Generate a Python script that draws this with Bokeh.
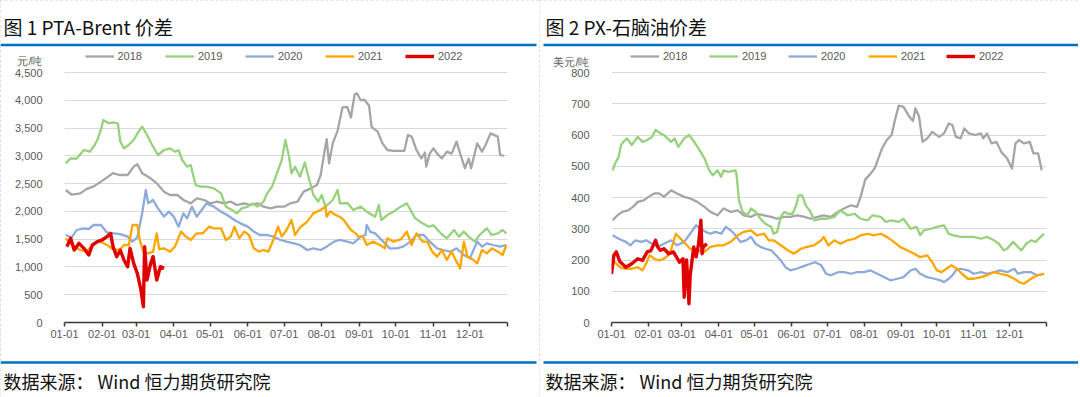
from bokeh.plotting import figure
from bokeh.models import Range1d, FixedTicker, Label, BoxAnnotation, Legend, LegendItem
from bokeh.layouts import row, column
from bokeh.embed import file_html
from bokeh.resources import INLINE

# ---------------- data ----------------
years = ["2018", "2019", "2020", "2021", "2022"]
month_ticks = [0, 31, 59, 90, 120, 151, 181, 212, 243, 273, 304, 334, 365]
month_labels = ["01-01", "02-01", "03-01", "04-01", "05-01", "06-01", "07-01",
                "08-01", "09-01", "10-01", "11-01", "12-01", ""]

# Chart 1: PTA-Brent spread (yuan/ton), x = day of year
pta_2018_day = [1,6,13,18,24,30,36,40,45,52,57,60,64,71,76,82,87,93,98,104,109,115,120,126,131,137,142,148,153,159,164,170,175,181,186,192,197,203,208,211,214,216,218,221,225,229,233,236,239,241,244,247,251,253,258,262,266,271,276,280,283,286,290,294,297,298,301,304,307,311,315,319,323,326,330,333,335,340,344,347,351,357,359,362]
pta_2018_val = [2385,2300,2325,2400,2450,2535,2625,2690,2655,2655,2805,2850,2685,2595,2505,2355,2295,2295,2205,2145,2235,2205,2145,2175,2145,2175,2115,2145,2115,2145,2085,2055,2085,2085,2145,2175,2355,2415,2475,2650,3045,3300,2865,3225,3450,3870,3880,3690,4100,4125,4000,4010,3900,3520,3435,3225,3105,3090,3090,3090,3375,3345,3105,2955,3060,2805,3045,3135,3040,2955,3075,3040,3255,3040,2775,2950,2775,3225,3075,3200,3405,3345,3015,3000]

pta_2019_day = [1,5,10,16,21,25,27,30,32,36,41,44,46,49,53,57,61,64,68,73,77,82,87,91,94,97,101,104,108,112,117,123,129,133,138,142,146,151,155,159,164,167,171,175,179,182,185,187,190,194,198,201,205,209,212,215,221,225,227,233,238,244,249,256,259,261,266,271,277,282,285,289,295,300,304,310,315,321,325,329,333,338,342,348,352,357,361,364]
pta_2019_val = [2865,2955,2950,3105,3075,3200,3285,3465,3645,3590,3600,3580,3255,3135,3200,3285,3435,3525,3375,3165,3015,3105,3135,3075,3100,2925,2805,2835,2475,2445,2445,2415,2325,2085,2025,1965,2055,2085,2145,2085,2175,2325,2445,2685,2925,3285,2985,2685,2805,2625,2880,2625,2300,2175,2295,2085,2205,2385,2145,2150,2025,2085,1995,1905,2115,1845,1935,1995,2085,2145,2030,1875,1785,1725,1750,1605,1515,1665,1545,1635,1545,1455,1575,1695,1575,1605,1665,1605]

pta_2020_day = [1,6,10,16,20,24,30,35,41,46,52,56,60,64,67,69,73,77,82,86,90,94,98,101,105,109,113,117,123,129,134,140,145,151,156,161,167,172,178,183,189,194,200,205,211,216,222,227,233,238,244,248,249,252,256,260,264,268,274,279,285,290,296,301,307,312,318,323,329,334,340,344,348,353,359,364]
pta_2020_val = [1575,1530,1665,1695,1683,1755,1755,1620,1605,1590,1545,1455,1530,1965,2385,2145,2205,2055,1905,1995,1905,1725,1965,1875,2085,1905,2025,2145,2085,1995,1935,1845,1785,1725,1635,1575,1575,1545,1485,1455,1425,1395,1305,1335,1305,1365,1455,1485,1455,1425,1545,1575,1755,1630,1605,1515,1425,1335,1335,1365,1455,1575,1575,1455,1335,1305,1275,1335,1215,1155,1455,1365,1425,1395,1365,1395]

pta_2021_day = [1,5,9,13,18,22,27,31,35,39,42,46,49,53,56,60,62,65,69,73,76,78,82,87,91,96,100,104,109,114,119,123,129,133,137,140,144,148,152,156,160,164,168,172,176,179,183,187,190,194,200,205,211,215,216,219,222,227,230,236,240,242,246,249,254,260,264,266,271,277,282,286,290,295,299,303,307,311,315,319,323,326,329,332,337,340,344,348,352,357,361,364]
pta_2021_val = [1515,1425,1350,1305,1275,1365,1455,1440,1395,1335,1305,1320,1395,1395,1755,1755,1485,1275,1245,1275,1605,1320,1335,1275,1365,1635,1545,1485,1605,1605,1725,1695,1695,1485,1545,1725,1515,1635,1575,1335,1275,1305,1275,1485,1725,1545,1665,1845,1575,1710,1815,1965,2025,2085,1905,2000,1950,1900,1845,1665,1605,1545,1545,1395,1455,1395,1335,1515,1455,1495,1635,1395,1605,1455,1455,1275,1185,1305,1125,1275,1095,975,1455,1185,1125,1065,1305,1245,1335,1275,1215,1395]

pta_2022_day = [2,5,8,12,16,20,23,27,31,35,38,40,43,46,49,52,54,57,60,63,65,66,68,71,73,76,79,82]
pta_2022_val = [1365,1515,1305,1425,1335,1215,1395,1455,1485,1545,1600,1365,1185,1300,1125,1005,1335,1065,885,585,285,1365,765,1065,1185,765,1005,975]

# Chart 2: PX-naphtha spread (USD/ton)
px_2018_day = [1,5,9,14,18,22,27,31,36,40,44,50,55,61,66,72,78,83,89,94,100,106,111,117,122,128,134,139,145,150,156,162,167,173,178,184,190,195,201,206,209,213,217,221,227,231,235,238,241,245,250,253,255,258,261,265,269,275,279,283,286,289,293,296,300,305,310,312,315,319,323,327,332,336,339,342,346,351,354,358,361]
px_2018_val = [327,343,354,359,370,386,391,402,413,413,402,423,413,402,397,386,370,354,343,365,354,359,343,338,348,343,338,332,338,338,343,338,332,338,343,338,354,365,375,370,402,458,474,495,557,584,600,650,694,690,658,645,685,660,578,589,610,594,605,637,632,594,589,621,605,600,605,589,605,573,578,546,525,493,573,584,573,578,541,541,487]

px_2019_day = [1,3,6,8,10,13,17,22,26,30,34,37,41,44,50,53,56,61,65,69,73,78,82,85,89,92,94,98,104,105,107,110,114,117,121,125,129,134,136,139,142,145,148,152,155,157,160,163,167,170,176,181,187,192,198,204,209,215,219,226,230,235,241,245,251,256,259,262,268,273,279,283,287,293,299,304,310,315,321,325,329,332,337,341,344,348,352,356,360,363]
px_2019_val = [487,509,530,568,578,589,568,594,578,584,594,616,605,600,578,589,562,589,600,580,557,525,487,471,487,466,487,482,487,470,391,354,343,365,354,332,316,306,284,290,338,354,348,348,375,407,407,375,354,327,332,332,338,359,343,348,332,327,343,338,322,327,322,332,300,306,279,295,300,306,311,284,279,274,274,274,268,274,263,252,231,236,258,242,231,252,263,258,274,284]

px_2020_day = [1,6,12,16,20,25,29,34,39,44,50,55,61,66,71,75,79,83,87,92,96,100,104,108,113,117,121,125,129,134,138,142,146,150,155,159,163,167,171,176,180,184,190,195,201,206,212,217,223,229,234,240,245,251,255,259,265,271,276,279,283,286,289,293,299,304,310,315,321,326,332,338,341,346,352,357,363]
px_2020_val = [279,268,258,247,263,258,263,252,242,252,263,247,258,284,311,300,290,284,290,284,306,295,279,258,263,274,252,242,236,231,215,199,177,167,172,177,183,188,193,183,156,151,161,161,156,161,161,167,156,145,135,140,145,167,172,156,145,140,135,129,140,151,167,172,167,156,161,156,161,167,161,172,156,161,161,151,156]

px_2021_day = [1,4,8,12,17,22,26,29,32,36,40,44,49,54,58,62,66,72,78,83,89,94,100,106,111,117,122,128,132,136,142,148,153,159,164,170,176,178,182,187,192,198,204,209,215,220,226,231,237,242,248,254,259,265,269,273,277,281,285,290,294,299,304,310,315,321,326,332,338,342,346,352,357,363]
px_2021_val = [200,188,175,172,172,177,167,188,215,204,199,204,220,284,268,252,236,231,226,242,247,247,258,279,290,295,279,284,263,263,247,231,220,236,242,247,263,274,247,263,252,263,268,279,284,279,284,274,258,242,231,220,209,215,193,167,161,172,183,172,156,140,140,145,151,161,156,151,140,129,124,140,151,156]

px_2022_day = [0,2,4,7,12,17,22,26,30,33,37,39,41,44,48,52,57,60,61,62,63,65,66,69,71,73,75,76,77,80]
px_2022_val = [155,215,226,195,177,188,204,199,226,230,263,240,231,236,220,226,193,204,81,160,200,60,150,242,210,250,327,220,242,252]

# ---------------- style ----------------
colors = ["#A5A5A5", "#97D17C", "#8EAADB", "#FFA500", "#E00000"]
widths = [2.3, 2.3, 2.3, 2.3, 3.4]
FONT_CJK = "Noto Sans CJK SC"
FONT_NUM = "Liberation Sans"
BLUE = "#0070C0"
PW = 539            # panel width
HEAD_H, MAIN_H, FOOT_H = 47, 313, 36
FRAME_BOTTOM_GAP = 38
PX_PER_GRID_SPAN = 250   # pixels between 0 and top gridline


def base_fig(height, **kw):
    return figure(width=PW, height=height, output_backend="svg", toolbar_location=None,
                  frame_align=False, **kw)


def header(title, tx, rx0, rx1):
    h = base_fig(HEAD_H, x_range=Range1d(0, PW), y_range=Range1d(HEAD_H, 0),
                 x_axis_type=None, y_axis_type=None, min_border=0)
    h.outline_line_color = None
    h.add_layout(Label(x=tx, y=26, text=title, text_font=FONT_CJK, text_font_size="19px",
                       text_color="#111111", text_baseline="middle", text_align="left"))
    h.add_layout(BoxAnnotation(left=rx0, right=rx1, top=43.3, bottom=45.8,
                               fill_color=BLUE, fill_alpha=1, line_color=None))
    return h


def footer(tx, rx0, rx1):
    f = base_fig(FOOT_H, x_range=Range1d(0, PW), y_range=Range1d(FOOT_H, 0),
                 x_axis_type=None, y_axis_type=None, min_border=0)
    f.outline_line_color = None
    f.add_layout(BoxAnnotation(left=rx0, right=rx1, top=0.8, bottom=3.3,
                               fill_color=BLUE, fill_alpha=1, line_color=None))
    f.add_layout(Label(x=tx, y=20, text="数据来源： Wind 恒力期货研究院", text_font=FONT_CJK,
                       text_font_size="18px", text_color="#111111",
                       text_baseline="middle", text_align="left"))
    return f


def main(unit, unit_val, grid_top, grid_step, data, fl, fw, legend_fx):
    frame_h = MAIN_H - FRAME_BOTTOM_GAP
    ytop = grid_top * frame_h / PX_PER_GRID_SPAN
    p = base_fig(MAIN_H, x_range=Range1d(0, 365), y_range=Range1d(0, ytop),
                 min_border_left=fl, min_border_right=PW - fl - fw,
                 min_border_top=0, min_border_bottom=FRAME_BOTTOM_GAP)
    p.outline_line_color = None
    p.xgrid.visible = False

    grid_ticks = list(range(0, grid_top + 1, grid_step))
    p.ygrid.ticker = FixedTicker(ticks=grid_ticks)
    p.ygrid.grid_line_color = "#D9D9D9"
    p.ygrid.grid_line_width = 1

    labels = {v: f"{v:,}" for v in grid_ticks}
    labels[unit_val] = unit
    p.yaxis.ticker = FixedTicker(ticks=grid_ticks + [unit_val])
    p.yaxis.major_label_overrides = labels
    p.yaxis.axis_line_color = None
    p.yaxis.major_tick_line_color = None
    p.yaxis.minor_tick_line_color = None
    p.yaxis.major_label_standoff = 16
    p.yaxis.major_label_text_font = FONT_NUM
    p.yaxis.major_label_text_font_size = "11px"
    p.yaxis.major_label_text_color = "#595959"

    p.xaxis.ticker = FixedTicker(ticks=month_ticks)
    p.xaxis.major_label_overrides = dict(zip(month_ticks, month_labels))
    p.xaxis.axis_line_color = "#3A3A3A"
    p.xaxis.axis_line_width = 1.5
    p.xaxis.major_tick_line_color = "#3A3A3A"
    p.xaxis.major_tick_line_width = 1.5
    p.xaxis.major_tick_in = 0
    p.xaxis.major_tick_out = 4
    p.xaxis.minor_tick_line_color = None
    p.xaxis.major_label_standoff = 3
    p.xaxis.major_label_text_font = FONT_NUM
    p.xaxis.major_label_text_font_size = "11px"
    p.xaxis.major_label_text_color = "#595959"

    for i, ((d, v), c, w) in enumerate(zip(data, colors, widths)):
        r = p.line(d, v, line_color=c, line_width=w, line_join="round")
        leg = Legend(items=[LegendItem(label=years[i], renderers=[r])],
                     location=(legend_fx[i], 260), orientation="horizontal",
                     glyph_width=29, glyph_height=12, label_height=12,
                     label_standoff=4, padding=0, margin=0, spacing=0,
                     border_line_color=None, background_fill_alpha=0,
                     label_text_font=FONT_NUM, label_text_font_size="11px",
                     label_text_color="#595959")
        p.add_layout(leg)
    return p


left_data = [(pta_2018_day, pta_2018_val), (pta_2019_day, pta_2019_val),
             (pta_2020_day, pta_2020_val), (pta_2021_day, pta_2021_val),
             (pta_2022_day, pta_2022_val)]
right_data = [(px_2018_day, px_2018_val), (px_2019_day, px_2019_val),
              (px_2020_day, px_2020_val), (px_2021_day, px_2021_val),
              (px_2022_day, px_2022_val)]

border = {"outline": "1px dashed #CFCFCF", "outline-offset": "-1px"}

left_col = column(
    header("图 1 PTA-Brent 价差", 3, 0, 536),
    main("元/吨", 4716, 4500, 500, left_data, fl=64, fw=443,
         legend_fx=[20.5, 101, 181, 261, 341]),
    footer(3, 0, 536),
    spacing=0, styles=border)

right_col = column(
    header("图 2 PX-石脑油价差", 6, 4, 539),
    main("美元/吨", 834, 800, 100, right_data, fl=72, fw=435,
         legend_fx=[19, 98, 177, 257, 335]),
    footer(6, 4, 539),
    spacing=0, styles=border)

layout = row(left_col, right_col, spacing=0)
open("out.html", "w").write(file_html(layout, INLINE))
